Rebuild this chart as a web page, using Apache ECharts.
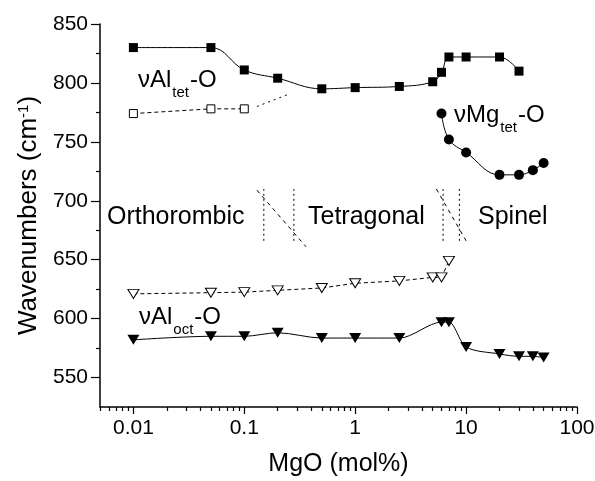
<!DOCTYPE html>
<html>
<head>
<meta charset="utf-8">
<script src="https://cdn.jsdelivr.net/npm/echarts@6/dist/echarts.min.js"></script>
<style>
  html, body { margin: 0; padding: 0; background: #fff; }
  #chart { width: 595px; height: 481px; }
</style>
</head>
<body>
<div id="chart"></div>
<script>
// MgO content (mol%) vs band position (cm-1)
var alTetX = [0.01, 0.05, 0.1, 0.2, 0.5, 1, 2.5, 5, 6, 7, 10, 20, 30];
var alTetY = [830, 830, 811, 804, 795, 796, 797, 801, 809, 822, 822, 822, 810];

var alTet2X = [0.01, 0.05, 0.1];
var alTet2Y = [774, 778, 778];
var alTet2TailX = [0.13, 0.26];
var alTet2TailY = [780, 791];

var mgTetX = [6, 7, 10, 20, 30, 40, 50];
var mgTetY = [774, 752, 741, 722, 722, 726, 732];

var alOct2X = [0.01, 0.05, 0.1, 0.2, 0.5, 1, 2.5, 5, 6, 7];
var alOct2Y = [621, 622, 622.5, 624, 626, 630, 632, 635, 635, 649];

var alOctX = [0.01, 0.05, 0.1, 0.2, 0.5, 1, 2.5, 6, 7, 10, 20, 30, 40, 50];
var alOctY = [582, 585, 585, 588, 583.5, 583.5, 583.5, 597, 597, 576, 570, 568, 568, 567];

// phase boundaries
var boundaryX = [0.15, 0.28, 6.2, 8.7];
var boundaryY = [666, 710];
var slash1X = [0.13, 0.36];
var slash1Y = [709, 661];
var slash2X = [5.4, 10];
var slash2Y = [710, 666];

// axis ticks
var xMajor = [0.01, 0.1, 1, 10, 100];
var xMinor = [0.005, 0.006, 0.007, 0.008, 0.009,
  0.02, 0.03, 0.04, 0.05, 0.06, 0.07, 0.08, 0.09,
  0.2, 0.3, 0.4, 0.5, 0.6, 0.7, 0.8, 0.9,
  2, 3, 4, 5, 6, 7, 8, 9,
  20, 30, 40, 50, 60, 70, 80, 90];
var yMajor = [550, 600, 650, 700, 750, 800, 850];
var yMinor = [575, 625, 675, 725, 775, 825];

function pairs(xs, ys) {
  return xs.map(function (x, i) { return [x, ys[i]]; });
}

var FONT = 'Liberation Sans';
var measureCtx = document.createElement('canvas').getContext('2d');
function textWidth(str, size) {
  measureCtx.font = size + 'px "' + FONT + '"';
  return measureCtx.measureText(str).width;
}
function txt(x, y, s, size) {
  return {
    type: 'text', x: x, y: y, silent: true,
    style: { text: s, fontSize: size, fontFamily: FONT, fill: '#000', align: 'left', verticalAlign: 'top' }
  };
}
// label with a subscript, positioned by its baseline
function bandLabel(left, baseline, main, sub, tail) {
  var w1 = textWidth(main, 24), w2 = textWidth(sub, 15);
  return [
    txt(left, baseline - 19.4, main, 24),
    txt(left + w1 + 1, baseline - 2.2, sub, 15),
    txt(left + w1 + w2 + 2, baseline - 19.4, tail, 24)
  ];
}

var axisColor = '#000';

var graphics = []
  .concat(bandLabel(138, 88, 'νAl', 'tet', '-O'))
  .concat(bandLabel(454, 123, 'νMg', 'tet', '-O'))
  .concat(bandLabel(139, 325, 'νAl', 'oct', '-O'))
  .concat([
    txt(107, 225 - 20.3, 'Orthorombic', 25),
    txt(308, 225 - 20.3, 'Tetragonal', 25),
    txt(478, 225 - 20.3, 'Spinel', 25)
  ]);

function markerSeries(xs, ys, opts) {
  return Object.assign({
    type: 'line',
    data: pairs(xs, ys),
    symbolSize: 9,
    lineStyle: { color: '#000', width: 1 },
    itemStyle: { color: '#000' },
    z: 3
  }, opts);
}

function guide(xs, ys, dash) {
  return {
    type: 'line',
    data: pairs(xs, ys),
    showSymbol: false,
    symbol: 'none',
    lineStyle: { color: '#000', width: 1, type: dash },
    z: 2
  };
}

var series = [
  markerSeries(alTetX, alTetY, { symbol: 'rect', symbolSize: 9, smooth: 0.4 }),
  markerSeries(alTet2X, alTet2Y, {
    symbol: 'rect', symbolSize: 8,
    lineStyle: { color: '#000', width: 1, type: [4, 3] },
    itemStyle: { color: '#fff', borderColor: '#000', borderWidth: 1 }
  }),
  guide(alTet2TailX, alTet2TailY, [2, 4]),
  markerSeries(mgTetX, mgTetY, { symbol: 'circle', symbolSize: 10, smooth: 0.4 }),
  markerSeries(alOct2X, alOct2Y, {
    symbol: 'triangle', symbolRotate: 180, symbolSize: [11, 9],
    lineStyle: { color: '#000', width: 1, type: [4, 3] },
    itemStyle: { color: '#fff', borderColor: '#000', borderWidth: 1 }
  }),
  markerSeries(alOctX, alOctY, { symbol: 'triangle', symbolRotate: 180, symbolSize: [12, 10], smooth: 0.3 })
];

boundaryX.forEach(function (x) {
  series.push(guide([x, x], boundaryY, [2, 3]));
});
series.push(guide(slash1X, slash1Y, [4, 4]));
series.push(guide(slash2X, slash2Y, [4, 4]));

var chart = echarts.init(document.getElementById('chart'), null, { renderer: 'canvas' });

var option = {
  animation: false,
  backgroundColor: '#fff',
  textStyle: { fontFamily: FONT },
  grid: { left: 100, right: 18, top: 24, bottom: 74, outerBoundsMode: 'none' },
  xAxis: [
    {
      type: 'log', logBase: 10, min: 0.005, max: 100,
      name: 'MgO (mol%)', nameLocation: 'middle', nameGap: 45,
      nameTextStyle: { fontSize: 25, color: axisColor },
      axisLine: { lineStyle: { color: axisColor, width: 1.5 } },
      axisTick: { customValues: xMajor, length: 7, lineStyle: { color: axisColor, width: 1.2 } },
      axisLabel: {
        customValues: xMajor, fontSize: 21, color: axisColor, margin: 11,
        formatter: function (v) { return String(+v.toPrecision(6)); }
      },
      splitLine: { show: false }
    },
    {
      type: 'log', logBase: 10, min: 0.005, max: 100, position: 'bottom',
      axisLine: { show: false },
      axisTick: { customValues: xMinor, length: 4, lineStyle: { color: axisColor, width: 1.2 } },
      axisLabel: { show: false },
      splitLine: { show: false }
    }
  ],
  yAxis: [
    {
      type: 'value', min: 525, max: 850,
      name: '{a|Wavenumbers (cm}{b|-1}{a|)}', nameLocation: 'middle', nameGap: 58, nameRotate: 90,
      nameTextStyle: {
        rich: {
          a: { fontSize: 26, lineHeight: 26, color: axisColor, fontFamily: FONT },
          b: { fontSize: 15, lineHeight: 15, color: axisColor, fontFamily: FONT, verticalAlign: 'top' }
        }
      },
      axisLine: { show: true, lineStyle: { color: axisColor, width: 1.5 } },
      axisTick: { show: true, customValues: yMajor, length: 9, lineStyle: { color: axisColor, width: 1.2 } },
      axisLabel: { customValues: yMajor, fontSize: 21, color: axisColor, margin: 12 },
      splitLine: { show: false }
    },
    {
      type: 'value', min: 525, max: 850, position: 'left',
      axisLine: { show: false },
      axisTick: { show: true, customValues: yMinor, length: 4, lineStyle: { color: axisColor, width: 1.2 } },
      axisLabel: { show: false },
      splitLine: { show: false }
    }
  ],
  graphic: graphics,
  series: series
};

chart.setOption(option);
</script>
</body>
</html>
